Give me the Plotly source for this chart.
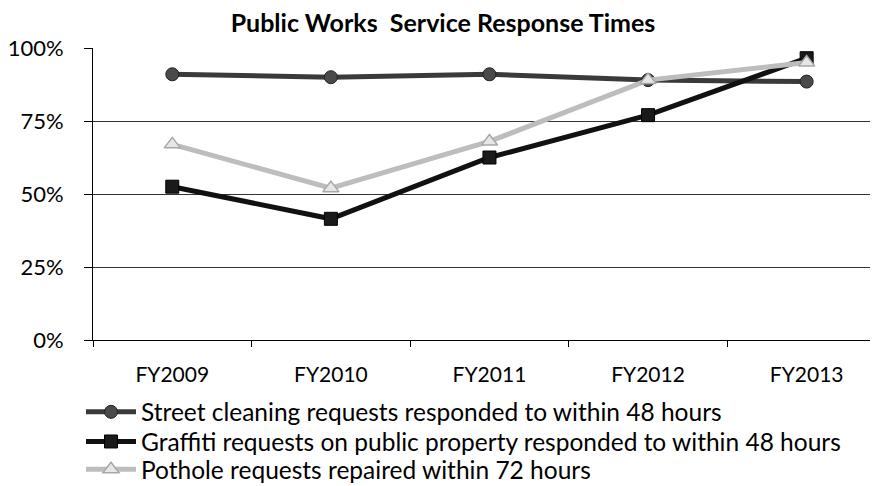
import plotly.graph_objects as go

categories = ["FY2009", "FY2010", "FY2011", "FY2012", "FY2013"]
street = [0.91, 0.90, 0.91, 0.89, 0.885]
graffiti = [0.525, 0.415, 0.625, 0.77, 0.965]
pothole = [0.67, 0.52, 0.68, 0.89, 0.95]
names = [
    "Street cleaning requests responded to within 48 hours",
    "Graffiti requests on public property responded to within 48 hours",
    "Pothole requests repaired within 72 hours",
]
ytickvals = [0, 0.25, 0.5, 0.75, 1.0]

fig = go.Figure()
fig.add_trace(go.Scatter(x=categories, y=street, name=names[0], mode="lines+markers",
                         legend="legend",
                         line=dict(color="#3a3a3a", width=5),
                         marker=dict(symbol="circle", size=13, color="#4a4a4a",
                                     line=dict(color="#222", width=1))))
fig.add_trace(go.Scatter(x=categories, y=graffiti, name=names[1], mode="lines+markers",
                         legend="legend2",
                         line=dict(color="#111", width=5),
                         marker=dict(symbol="square", size=13, color="#1a1a1a",
                                     line=dict(color="#000", width=1))))
fig.add_trace(go.Scatter(x=categories, y=pothole, name=names[2], mode="lines+markers",
                         legend="legend3",
                         line=dict(color="#bdbdbd", width=5),
                         marker=dict(symbol="triangle-up", size=14, color="#e6e6e6",
                                     line=dict(color="#a8a8a8", width=1.5))))


def leg(yc):
    return dict(x=-0.0153, y=yc, xref="paper", yref="container",
                xanchor="left", yanchor="middle", orientation="v",
                font=dict(size=24.5), itemwidth=50, bgcolor="rgba(0,0,0,0)")


fig.update_layout(
    width=870, height=478,
    margin=dict(l=85, r=0, t=40, b=146),
    paper_bgcolor="white", plot_bgcolor="white",
    font=dict(family="Lato, Open Sans, sans-serif", color="black", size=20),
    title=dict(text="<b>Public Works  Service Response Times</b>", x=0.5, xanchor="center",
               y=0.968, yanchor="middle", font=dict(size=25)),
    showlegend=True,
    legend=leg(0.155),
    legend2=leg(0.093),
    legend3=leg(0.035),
    xaxis=dict(type="category", range=[-0.5, 4.45], showgrid=False,
               showline=True, linecolor="black", linewidth=1,
               ticks="outside", ticklen=6, tickcolor="black",
               tickson="boundaries", tickfont=dict(size=21),
               ticklabelstandoff=16),
    yaxis=dict(range=[0, 1.0], tickvals=ytickvals, tickformat=".0%",
               showgrid=True, gridcolor="#333", gridwidth=1,
               showline=True, linecolor="black", linewidth=1,
               ticks="outside", ticklen=8, tickcolor="black",
               zeroline=False, tickfont=dict(size=22),
               ticklabelstandoff=16),
)
fig.write_html("out.html")
